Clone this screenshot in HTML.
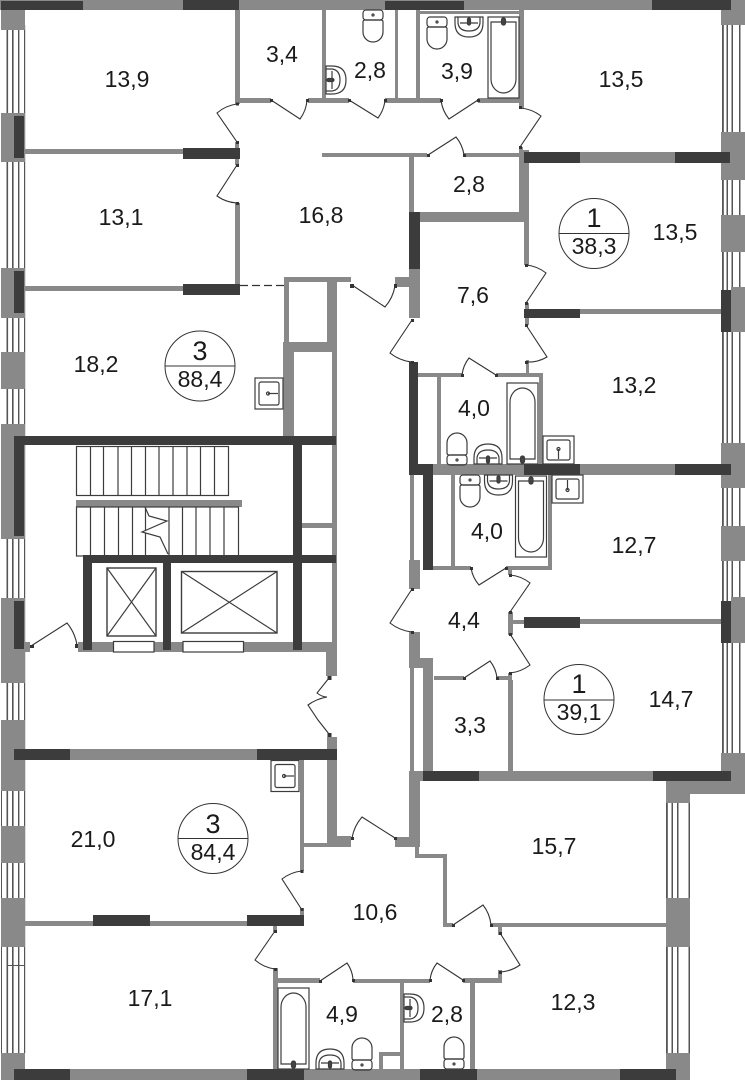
<!DOCTYPE html>
<html><head><meta charset="utf-8"><style>
html,body{margin:0;padding:0;background:#fff}
svg{display:block}
text{font-family:"Liberation Sans",sans-serif;font-size:23px;fill:#1a1a1a;text-anchor:middle}
.g rect{fill:#898989}
.k rect{fill:#3c3c3c}
.d path{fill:none;stroke:#333;stroke-width:1.1}
.d rect{fill:#333}
.f *{fill:none;stroke:#3c3c3c;stroke-width:1.2}
</style></head><body>
<svg width="745" height="1080" viewBox="0 0 745 1080" xmlns="http://www.w3.org/2000/svg">
<defs>
<g id="t"><rect x="0" y="0" width="20" height="10" rx="3"/><path d="M0,12V22A10,10 0 0 0 20,22V12Q20,10 18,10H2Q0,10 0,12Z"/><circle cx="10" cy="5" r="1"/></g>
<g id="b"><path d="M0,0H28V6Q28,20 14,20Q0,20 0,6Z"/><path d="M3,0V6Q4,14 14,14Q24,14 25,6V0"/><path d="M5,6H23"/><rect x="12.5" y="1" width="3" height="7" rx="1.5" style="fill:#444"/></g>
<g id="h"><rect x="0" y="0" width="31" height="81"/><path d="M3,5H28V62A12.5,14 0 0 1 3,62Z"/><rect x="13.5" y="1" width="4" height="7" rx="2" style="fill:#444"/></g>
<g id="s"><rect x="0" y="0" width="31" height="28"/><rect x="4" y="4" width="23" height="20" rx="2"/><path d="M15.5,5V15"/><circle cx="15.5" cy="15" r="1.5"/></g>
</defs>

<!-- windows -->
<g fill="#555">
<rect x="6.5" y="25" width="1.6" height="1028"/><rect x="12" y="25" width="1.6" height="1028"/><rect x="18" y="25" width="1.4" height="1028"/><rect x="24" y="25" width="1.2" height="1028"/>
<rect x="1" y="791" width="1" height="262"/><rect x="7" y="965" width="18" height="1"/>
<rect x="722" y="25" width="1.8" height="728"/><rect x="726.5" y="25" width="1.5" height="728"/><rect x="731.5" y="25" width="1.5" height="728"/><rect x="739" y="25" width="1.5" height="728"/>
<rect x="666" y="800" width="1.8" height="255"/><rect x="671.5" y="803" width="1.5" height="250"/><rect x="677" y="803" width="1.5" height="250"/><rect x="688.5" y="803" width="1.5" height="250"/>
</g>

<!-- grey walls -->
<g class="g">
<rect x="0" y="0" width="731" height="10"/>
<rect x="1" y="10" width="24" height="20"/><rect x="1" y="113" width="24" height="49"/><rect x="1" y="268" width="24" height="50"/><rect x="1" y="352" width="24" height="37"/><rect x="1" y="424" width="24" height="115"/><rect x="1" y="598" width="24" height="85"/><rect x="1" y="720" width="24" height="71"/><rect x="1" y="826" width="24" height="37"/><rect x="1" y="898" width="24" height="49"/><rect x="1" y="1053" width="24" height="27"/>
<rect x="721" y="0" width="24" height="25"/><rect x="721" y="132" width="24" height="48"/><rect x="721" y="215" width="24" height="37"/><rect x="731" y="287" width="14" height="45"/><rect x="721" y="443" width="24" height="45"/><rect x="721" y="526" width="24" height="35"/><rect x="731" y="597" width="14" height="46"/>
<rect x="721" y="753" width="24" height="41"/><rect x="666" y="781" width="79" height="13"/><rect x="666" y="781" width="24" height="22"/><rect x="666" y="898" width="24" height="49"/><rect x="666" y="1053" width="24" height="27"/>
<rect x="14" y="1069" width="676" height="11"/>

<rect x="235" y="10" width="5" height="94"/><rect x="240" y="98" width="31" height="5"/><rect x="308" y="98" width="41" height="5"/><rect x="322" y="10" width="4" height="89"/>
<rect x="25" y="149" width="158" height="5"/><rect x="235" y="142" width="4" height="23"/><rect x="235" y="203" width="5" height="82"/><rect x="25" y="286" width="158" height="5"/>
<rect x="284" y="277" width="5" height="68"/><rect x="284" y="277" width="67" height="5"/><rect x="327" y="282" width="10" height="60"/><rect x="283" y="342" width="54" height="10"/><rect x="283" y="342" width="11" height="94"/><rect x="332" y="352" width="5" height="298"/>
<rect x="302" y="523" width="30" height="5"/>
<rect x="76" y="500" width="166" height="7"/>
<rect x="78" y="642" width="259" height="10"/><rect x="25" y="642" width="5" height="10"/><rect x="326" y="652" width="11" height="24"/>
<rect x="327" y="737" width="10" height="110"/><rect x="337" y="836" width="14" height="11"/><rect x="303" y="843" width="24" height="4"/><rect x="300" y="759" width="4" height="112"/><rect x="300" y="908" width="4" height="8"/>
<rect x="25" y="921" width="68" height="5"/><rect x="150" y="921" width="97" height="5"/><rect x="273" y="926" width="4" height="6"/><rect x="273" y="968" width="5" height="102"/>
<rect x="278" y="978" width="42" height="5"/><rect x="353" y="979" width="77" height="4"/><rect x="463" y="978" width="39" height="5"/><rect x="498" y="970" width="4" height="13"/><rect x="498" y="926" width="4" height="9"/>
<rect x="400" y="983" width="4" height="87"/><rect x="470" y="983" width="5" height="87"/><rect x="379" y="1052" width="4" height="18"/><rect x="379" y="1052" width="21" height="4"/>
<rect x="409" y="771" width="11" height="76"/><rect x="395" y="837" width="14" height="10"/><rect x="415" y="847" width="4" height="11"/><rect x="415" y="854" width="32" height="4"/><rect x="443" y="854" width="4" height="73"/><rect x="443" y="923" width="10" height="4"/>
<rect x="491" y="923" width="175" height="4"/>
<rect x="420" y="771" width="311" height="10"/>
<rect x="395" y="10" width="3" height="89"/><rect x="416" y="10" width="4" height="89"/><rect x="420" y="11" width="101" height="3"/><rect x="385" y="98" width="56" height="5"/><rect x="478" y="98" width="42" height="5"/><rect x="519" y="10" width="5" height="98"/><rect x="519" y="147" width="4" height="8"/>
<rect x="322" y="153" width="105" height="4"/><rect x="464" y="153" width="56" height="4"/><rect x="519" y="150" width="10" height="72"/><rect x="409" y="157" width="5" height="55"/><rect x="420" y="212" width="109" height="10"/><rect x="409" y="269" width="11" height="49"/><rect x="395" y="277" width="14" height="10"/>
<rect x="524" y="222" width="5" height="43"/><rect x="525" y="303" width="4" height="7"/><rect x="580" y="309" width="141" height="5"/>
<rect x="524" y="152" width="197" height="11"/>
<rect x="525" y="318" width="4" height="7"/><rect x="526" y="360" width="3" height="17"/>
<rect x="418" y="373" width="44" height="4"/><rect x="496" y="373" width="47" height="4"/><rect x="539" y="373" width="4" height="91"/><rect x="437" y="377" width="4" height="88"/>
<rect x="409" y="464" width="312" height="11"/>
<rect x="410" y="475" width="4" height="85"/><rect x="409" y="560" width="11" height="29"/><rect x="451" y="475" width="4" height="92"/><rect x="433" y="566" width="38" height="4"/><rect x="506" y="566" width="46" height="4"/><rect x="548" y="475" width="4" height="95"/>
<rect x="508" y="570" width="4" height="5"/><rect x="508" y="612" width="5" height="23"/><rect x="512" y="620" width="12" height="4"/><rect x="580" y="619" width="141" height="5"/>
<rect x="508" y="673" width="4" height="7"/><rect x="434" y="676" width="30" height="4"/><rect x="497" y="676" width="13" height="4"/>
<rect x="409" y="632" width="11" height="36"/><rect x="420" y="658" width="13" height="10"/><rect x="423" y="668" width="10" height="103"/><rect x="410" y="668" width="4" height="103"/><rect x="508" y="680" width="5" height="91"/>
<rect x="14" y="749" width="323" height="11"/>
</g>

<!-- dark walls -->
<g class="k">
<rect x="1" y="1" width="82" height="9"/><rect x="183" y="0" width="56" height="10"/><rect x="385" y="1" width="79" height="9"/><rect x="652" y="0" width="79" height="10"/>
<rect x="14" y="116" width="10" height="42"/><rect x="14" y="271" width="10" height="42"/><rect x="14" y="436" width="10" height="100"/><rect x="14" y="601" width="10" height="48"/>
<rect x="721" y="290" width="10" height="42"/><rect x="721" y="601" width="10" height="42"/>
<rect x="183" y="148" width="57" height="11"/><rect x="183" y="284" width="57" height="11"/>
<rect x="14" y="436" width="322" height="9"/><rect x="293" y="445" width="9" height="205"/><rect x="83" y="555" width="253" height="8"/><rect x="83" y="555" width="9" height="95"/><rect x="163" y="563" width="8" height="87"/>
<rect x="14" y="749" width="56" height="11"/><rect x="257" y="749" width="80" height="11"/>
<rect x="93" y="915" width="57" height="11"/><rect x="247" y="915" width="57" height="11"/>
<rect x="14" y="1069" width="56" height="11"/><rect x="247" y="1069" width="57" height="11"/><rect x="420" y="1069" width="57" height="11"/><rect x="620" y="1069" width="56" height="11"/>
<rect x="423" y="771" width="56" height="10"/><rect x="653" y="771" width="78" height="10"/>
<rect x="524" y="152" width="56" height="11"/><rect x="675" y="152" width="55" height="11"/><rect x="409" y="212" width="11" height="57"/><rect x="524" y="309" width="56" height="9"/>
<rect x="409" y="362" width="9" height="103"/><rect x="409" y="464" width="24" height="11"/><rect x="423" y="475" width="10" height="95"/><rect x="524" y="464" width="56" height="11"/><rect x="675" y="464" width="56" height="11"/>
<rect x="524" y="617" width="56" height="11"/>
</g>

<!-- dashed partition -->
<path d="M240,285.5H284" stroke="#333" stroke-width="1.2" stroke-dasharray="8,4" fill="none"/>

<!-- stairs -->
<g class="f">
<rect x="76.500" y="446.500" width="152" height="49"/>
<path d="M90.500,446V495M103.500,446V495M118,446V495M131.500,446V495M145.500,446V495M159,446V495M173,446V495M187,446V495M200.500,446V495M214.500,446V495"/>
<rect x="76.500" y="507" width="162" height="49"/>
<path d="M90.500,507V556M104.500,507V556M118.500,507V556M132.500,507V556M145.500,507V556M169,507V556M182.500,507V556M196,507V556M210,507V556M224,507V556"/>
<path d="M145,507L149,516L167,521L142,532L160,537L168,554" style="fill:#fff"/>
<rect x="107" y="568" width="49" height="68" style="stroke-width:1.4"/><path d="M107,568L156,636M156,568L107,636"/>
<rect x="181.500" y="571.500" width="95.500" height="61.500" style="stroke-width:1.4"/><path d="M181.500,571.500L277,633M277,571.500L181.500,633"/>
<rect x="113.500" y="641.500" width="40.500" height="10.500" style="fill:#fff"/><rect x="183" y="641.500" width="60.500" height="10.500" style="fill:#fff"/>
</g>

<!-- doors -->
<g class="d">
<path d="M237,142L217,113A38,38 0 0 1 237,104"/>
<path d="M237,165L217,196A38,38 0 0 0 237,203"/>
<path d="M271,100L300,119A36,36 0 0 0 307,100"/>
<path d="M349,100L378,118A36,36 0 0 0 385,100"/>
<path d="M478,100L449,119A37,37 0 0 1 441,100"/>
<path d="M520,147L541,116A39,39 0 0 0 520,108"/>
<path d="M428,155L456,137A36,36 0 0 1 464,155"/>
<path d="M352,285L385,307A43,43 0 0 0 395,286"/>
<path d="M526,303L546,273A38,38 0 0 0 526,265"/>
<path d="M526,325L547,357A37,37 0 0 1 526,362"/>
<path d="M412,320L390,353A42,42 0 0 0 412,362"/>
<path d="M496,375L469,358A34,34 0 0 0 462,375"/>
<path d="M506,568L479,585A35,35 0 0 1 471,568"/>
<path d="M510,612L530,583A37,37 0 0 0 510,575"/>
<path d="M510,634L530,665A39,39 0 0 1 510,673"/>
<path d="M464,678L490,661A33,33 0 0 1 497,678"/>
<path d="M412,589L390,623A43,43 0 0 0 412,632"/>
<path d="M329,678L317,693Q322,697 327,697Q316,699 308,705L318,720L329,734"/>
<path d="M302,910L282,879A39,39 0 0 1 302,871"/>
<path d="M275,931L255,960A38,38 0 0 0 275,969"/>
<path d="M320,981L347,963A33,33 0 0 1 353,979"/>
<path d="M463,980L437,963A33,33 0 0 0 430,980"/>
<path d="M500,933L520,965A39,39 0 0 1 500,972"/>
<path d="M453,925L483,905A38,38 0 0 1 491,925"/>
<path d="M31,646L67,623A46,46 0 0 1 77,645"/>
<path d="M395,838L362,817A43,43 0 0 0 352,838"/>
<rect x="236" y="102.500" width="3" height="3"/><rect x="236" y="141" width="3" height="3"/><rect x="236" y="164" width="3" height="3"/><rect x="236" y="202" width="3" height="3"/><rect x="270" y="99" width="3" height="3"/><rect x="306" y="99" width="3" height="3"/><rect x="348" y="99" width="3" height="3"/><rect x="384" y="99" width="3" height="3"/><rect x="440" y="99" width="3" height="3"/><rect x="477" y="99" width="3" height="3"/><rect x="519" y="106" width="3" height="3"/><rect x="519" y="146" width="3" height="3"/><rect x="427" y="154" width="3" height="3"/><rect x="463" y="154" width="3" height="3"/><rect x="350" y="284" width="4" height="4"/><rect x="394" y="284" width="3" height="4"/><rect x="525" y="264" width="3" height="3"/><rect x="525" y="302" width="3" height="3"/><rect x="525" y="324" width="3" height="3"/><rect x="525" y="361" width="3" height="3"/><rect x="411" y="319" width="3" height="3"/><rect x="411" y="361" width="3" height="3"/><rect x="461" y="374" width="3" height="3"/><rect x="495" y="374" width="3" height="3"/><rect x="470" y="567" width="3" height="3"/><rect x="505" y="567" width="3" height="3"/><rect x="509" y="574" width="3" height="3"/><rect x="509" y="611" width="3" height="3"/><rect x="509" y="633" width="3" height="3"/><rect x="509" y="672" width="3" height="3"/><rect x="463" y="677" width="3" height="3"/><rect x="496" y="677" width="3" height="3"/><rect x="411" y="588" width="3" height="3"/><rect x="411" y="631" width="3" height="3"/><rect x="327.500" y="676" width="4" height="4"/><rect x="327.500" y="733" width="4" height="4"/><rect x="300.500" y="870" width="3" height="3"/><rect x="300.500" y="908" width="3" height="3"/><rect x="274" y="930" width="3" height="3"/><rect x="274" y="968" width="3" height="3"/><rect x="319" y="980" width="3" height="3"/><rect x="352" y="979" width="3" height="3"/><rect x="429" y="979" width="3" height="3"/><rect x="462" y="979" width="3" height="3"/><rect x="499" y="932" width="3" height="3"/><rect x="499" y="971" width="3" height="3"/><rect x="452" y="924" width="3" height="3"/><rect x="490" y="924" width="3" height="3"/><rect x="30" y="645" width="4" height="3"/><rect x="75" y="644" width="3" height="4"/><rect x="351" y="837" width="3" height="3"/><rect x="394" y="837" width="3" height="3"/>
</g>

<!-- fixtures -->
<g class="f">
<use href="#t" transform="translate(427,17)"/>
<use href="#t" transform="translate(363,10)"/>
<use href="#t" transform="translate(460,475)"/>
<use href="#t" transform="translate(467,465) scale(-1,-1)"/>
<use href="#t" transform="translate(372,1070) scale(-1,-1)"/>
<use href="#t" transform="translate(464,1069) scale(-1,-1)"/>
<use href="#b" transform="translate(455,17)"/>
<use href="#b" transform="translate(484.500,475)"/>
<use href="#b" transform="translate(502,464) scale(-1,-1)"/>
<use href="#b" transform="translate(344,1069) scale(-1,-1)"/>
<use href="#b" transform="translate(326,94) rotate(-90)"/>
<use href="#b" transform="translate(404,1022) rotate(-90)"/>
<use href="#h" transform="translate(488,17)"/>
<use href="#h" transform="translate(515.500,476)"/>
<use href="#h" transform="translate(538,464) scale(-1,-1)"/>
<use href="#h" transform="translate(309,1069) scale(-1,-1)"/>
<use href="#s" transform="translate(574,464) scale(-1,-1)"/>
<use href="#s" transform="translate(552,475) scale(1,1)"/>
<use href="#s" transform="translate(283,378) rotate(90)"/>
<use href="#s" transform="translate(299,760.500) rotate(90)"/>
</g>

<!-- circles -->
<g fill="none" stroke="#333" stroke-width="1">
<circle cx="594" cy="233.500" r="35"/><path d="M559,233.500H629"/>
<circle cx="200" cy="366" r="35"/><path d="M165,366H235"/>
<circle cx="579" cy="699.500" r="35"/><path d="M544,700H614"/>
<circle cx="213" cy="838.500" r="35"/><path d="M178,838.500H248"/>
</g>

<!-- labels -->
<text x="127" y="87">13,9</text>
<text x="282" y="62">3,4</text>
<text x="370" y="78">2,8</text>
<text x="457" y="79">3,9</text>
<text x="621" y="87">13,5</text>
<text x="121" y="225">13,1</text>
<text x="321" y="223">16,8</text>
<text x="469" y="192">2,8</text>
<text x="675" y="240">13,5</text>
<text x="473" y="303">7,6</text>
<text x="96" y="372">18,2</text>
<text x="634" y="393">13,2</text>
<text x="474" y="416">4,0</text>
<text x="487" y="539">4,0</text>
<text x="634" y="553">12,7</text>
<text x="464" y="628">4,4</text>
<text x="671" y="707">14,7</text>
<text x="470" y="733">3,3</text>
<text x="93" y="847">21,0</text>
<text x="150" y="1006">17,1</text>
<text x="342" y="1022">4,9</text>
<text x="447" y="1022">2,8</text>
<text x="554" y="854">15,7</text>
<text x="573" y="1010">12,3</text>
<text x="375" y="920">10,6</text>

<text x="594" y="227" style="font-size:27px">1</text><text x="594" y="254">38,3</text>
<text x="200" y="360" style="font-size:27px">3</text><text x="200" y="387">88,4</text>
<text x="579" y="693" style="font-size:27px">1</text><text x="579" y="720">39,1</text>
<text x="213" y="833" style="font-size:27px">3</text><text x="213" y="860">84,4</text>
</svg>
</body></html>
